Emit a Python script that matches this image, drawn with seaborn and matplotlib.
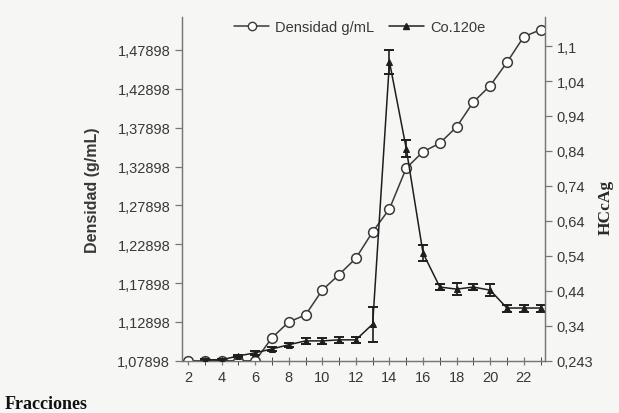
import numpy as np
import pandas as pd
import matplotlib
matplotlib.use("Agg")
import matplotlib.pyplot as plt
from matplotlib.lines import Line2D
import seaborn as sns

# fractions
fracciones = list(range(2, 24))
# density g/mL, one value per fraction 2..23
densidad = [1.07898, 1.07898, 1.07898, 1.07898, 1.07898, 1.1086, 1.129, 1.138,
            1.170, 1.190, 1.211, 1.245, 1.2745, 1.327, 1.348, 1.359, 1.380,
            1.412, 1.433, 1.463, 1.496, 1.505]
# Co.120e (HCcAg) for fractions 3..23 with error bars
frac_co = list(range(3, 24))
co120e = [0.246, 0.246, 0.257, 0.266, 0.277, 0.289, 0.300, 0.300, 0.303, 0.303,
          0.348, 1.098, 0.850, 0.551, 0.454, 0.448, 0.454, 0.445, 0.394, 0.394, 0.394]
co_err = [0.003, 0.003, 0.004, 0.005, 0.006, 0.006, 0.008, 0.008, 0.008, 0.008,
          0.050, 0.035, 0.025, 0.022, 0.008, 0.018, 0.008, 0.018, 0.010, 0.010, 0.010]

dens_ticks = [1.07898, 1.12898, 1.17898, 1.22898, 1.27898, 1.32898, 1.37898, 1.42898, 1.47898]
dens_labels = ["1,07898", "1,12898", "1,17898", "1,22898", "1,27898", "1,32898",
               "1,37898", "1,42898", "1,47898"]
hc_ticks = [0.243, 0.343, 0.443, 0.543, 0.643, 0.743, 0.843, 0.943, 1.043, 1.143]
hc_labels = ["0,243", "0,34", "0,44", "0,54", "0,64", "0,74", "0,84", "0,94", "1,04", "1,1"]
x_ticks = [2, 4, 6, 8, 10, 12, 14, 16, 18, 20, 22]

sns.set_style("ticks")
plt.rcParams['font.family'] = ['Liberation Sans', 'DejaVu Sans']

line_col = "#3a3a3a"
txt_col = "#383838"

fig = plt.figure(figsize=(6.19, 4.14), dpi=100, facecolor="#f6f6f4")
ax = fig.add_axes([0.294, 0.126, 0.586, 0.8305])
ax.set_facecolor("#f6f6f4")

df_d = pd.DataFrame({"f": fracciones, "d": densidad})
sns.lineplot(data=df_d, x="f", y="d", ax=ax, color=line_col, lw=1.1,
             marker="o", markersize=7, markerfacecolor="white",
             markeredgecolor=line_col, markeredgewidth=1.1, zorder=3)

ax2 = ax.twinx()
df_c = pd.DataFrame({"f": frac_co, "c": co120e})
sns.lineplot(data=df_c, x="f", y="c", ax=ax2, color="#1e1e1e", lw=1.1,
             marker="^", markersize=5, markerfacecolor="#1e1e1e",
             markeredgecolor="#1e1e1e", zorder=3)
ax2.errorbar(frac_co, co120e, yerr=co_err, fmt="none", ecolor="#1e1e1e",
             elinewidth=1.2, capsize=3.5, capthick=1.4, zorder=2)

ax.set_xlim(1.64, 23.25)
ax.set_ylim(1.07898, 1.5214)
ax2.set_ylim(0.2445, 1.226)

ax.set_xticks(x_ticks)
ax.set_xticks(fracciones, minor=True)
ax.set_xticklabels([str(t) for t in x_ticks])
ax.set_yticks(dens_ticks)
ax.set_yticklabels(dens_labels)
ax2.set_yticks(hc_ticks)
ax2.set_yticklabels(hc_labels)

for a in (ax, ax2):
    a.spines["top"].set_visible(False)
    for s in a.spines.values():
        s.set_color("#777777")
        s.set_linewidth(0.9)
    a.tick_params(colors="#777777", labelcolor=txt_col, labelsize=10.5, width=0.9)
ax.tick_params(axis="x", which="both", direction="inout", length=6)
ax.tick_params(axis="y", length=5)
ax2.tick_params(axis="y", length=5)

ax.set_xlabel("")
ax.set_ylabel("Densidad (g/mL)", fontsize=11.5, fontweight="bold", color=txt_col)
ax.yaxis.set_label_coords(-0.225, 0.5)
ax2.set_ylabel("HCcAg", fontsize=12.5, fontweight="bold", color="#2a2a2a",
               family=["Liberation Serif", "DejaVu Serif"])
ax2.yaxis.set_label_coords(1.145, 0.45)

handles = [
    Line2D([], [], color=line_col, lw=1.1, marker="o", markersize=6,
           markerfacecolor="white", markeredgecolor=line_col),
    Line2D([], [], color="#1e1e1e", lw=1.1, marker="^", markersize=5,
           markerfacecolor="#1e1e1e"),
]
ax2.legend(handles, ["Densidad g/mL", "Co.120e"], loc="center",
           bbox_to_anchor=(0.49, 0.97), ncol=2, frameon=False, fontsize=10.5,
           handlelength=2.4, columnspacing=1.0, handletextpad=0.4,
           labelcolor=txt_col)

fig.text(0.008, 0.012, "Fracciones", fontsize=13, fontweight="bold",
         family=["Liberation Serif", "DejaVu Serif"], color="#111111")

fig.savefig("out.png", dpi=100, facecolor=fig.get_facecolor())
